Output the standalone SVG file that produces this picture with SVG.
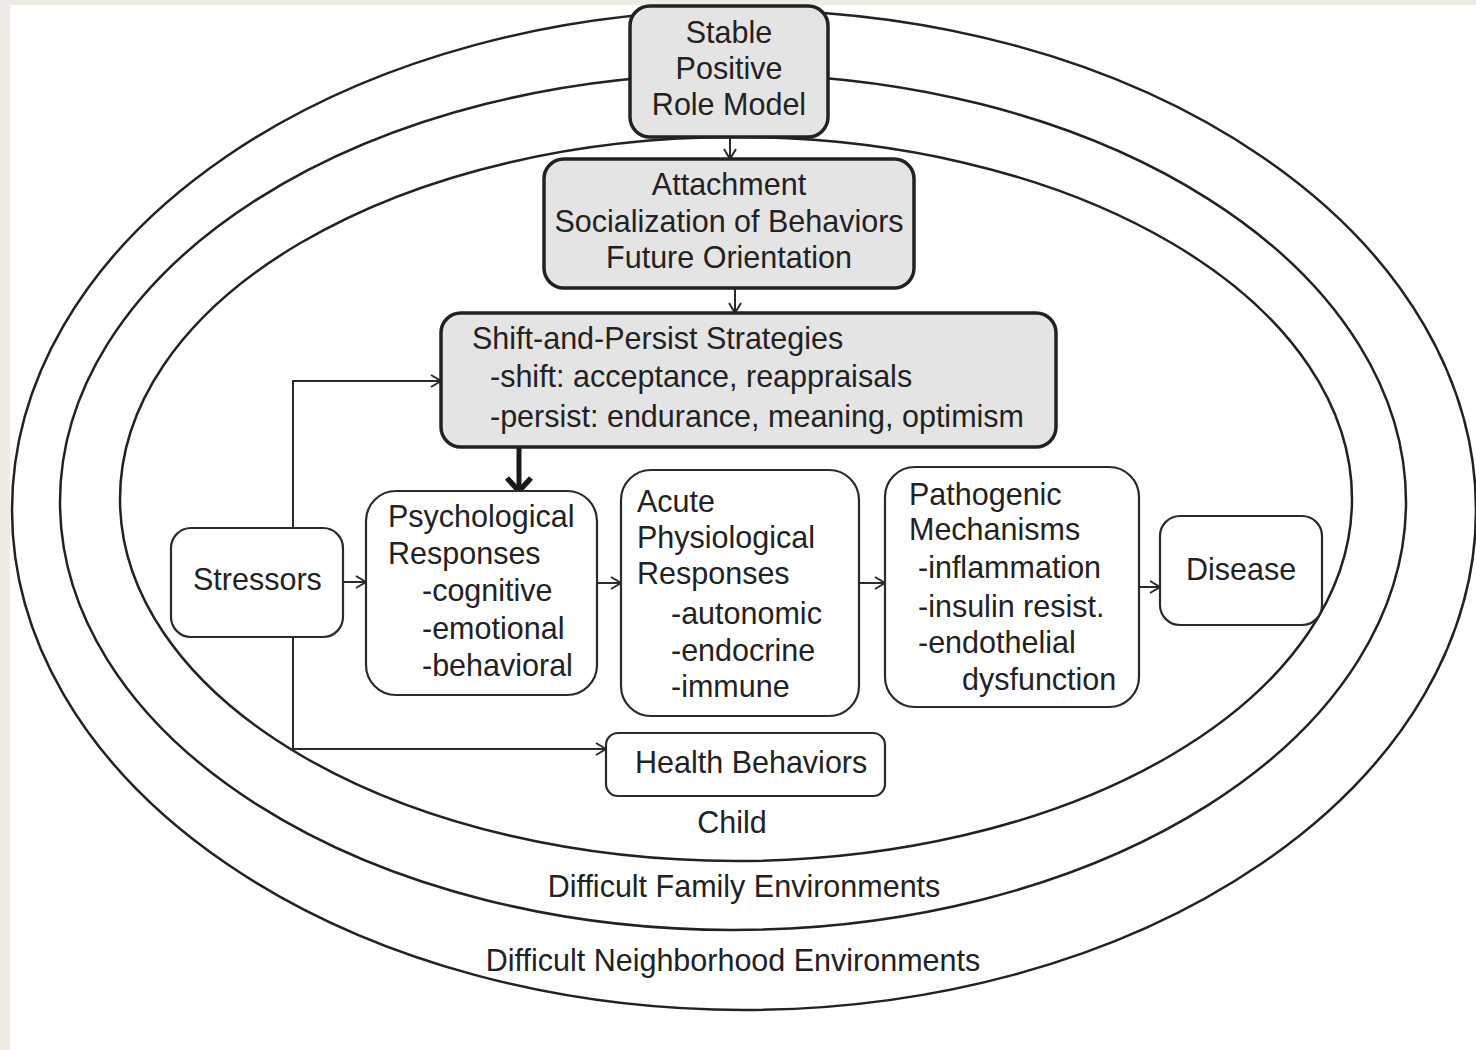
<svg xmlns="http://www.w3.org/2000/svg" width="1476" height="1050" viewBox="0 0 1476 1050">
<defs>
<style>
.t{font-family:"Liberation Sans",Arial,sans-serif;font-size:30.5px;fill:#222;}
.c{text-anchor:middle;}
.ring{fill:none;stroke:#222;stroke-width:2.5;}
.gbox{fill:#e4e4e4;stroke:#222;stroke-width:3.5;}
.wbox{fill:#fff;stroke:#2a2a2a;stroke-width:2.2;}
.conn{fill:none;stroke:#2a2a2a;stroke-width:2;}
</style>
<marker id="ah" markerUnits="userSpaceOnUse" markerWidth="14" markerHeight="14" refX="11" refY="7" orient="auto">
<path d="M1,1 L11,7 L1,13" fill="none" stroke="#2a2a2a" stroke-width="2"/>
</marker>
<marker id="ahb" markerUnits="userSpaceOnUse" markerWidth="30" markerHeight="30" refX="16" refY="15" orient="auto">
<path d="M3,3 L16,15 L3,27" fill="none" stroke="#1a1a1a" stroke-width="5.5"/>
</marker>
</defs>
<rect x="0" y="0" width="1476" height="1050" fill="#eeebe4"/>
<rect x="10" y="5" width="1466" height="1045" fill="#fff"/>
<g id="rings">
<ellipse class="ring" cx="744" cy="510" rx="732" ry="500"/>
<ellipse class="ring" cx="733" cy="502" rx="673" ry="428"/>
<ellipse class="ring" cx="736" cy="499" rx="616" ry="362"/>
<text class="t c" x="732" y="833">Child</text>
<text class="t c" x="744" y="897">Difficult Family Environments</text>
<text class="t c" x="733" y="971">Difficult Neighborhood Environments</text>
</g>
<g id="connectors">
<line class="conn" x1="730" y1="137" x2="730" y2="159" marker-end="url(#ah)"/>
<line class="conn" x1="735" y1="288" x2="735" y2="313" marker-end="url(#ah)"/>
<line x1="519" y1="447" x2="519" y2="491" fill="none" stroke="#1a1a1a" stroke-width="5" marker-end="url(#ahb)"/>
<line class="conn" x1="343" y1="582" x2="366" y2="582" marker-end="url(#ah)"/>
<path class="conn" d="M293,528 V381 H441" marker-end="url(#ah)"/>
<path class="conn" d="M293,637 V749 H606" marker-end="url(#ah)"/>
<line class="conn" x1="597" y1="583" x2="621" y2="583" marker-end="url(#ah)"/>
<line class="conn" x1="859" y1="583" x2="885" y2="583" marker-end="url(#ah)"/>
<line class="conn" x1="1139" y1="587" x2="1160" y2="587" marker-end="url(#ah)"/>
</g>
<g id="role-model">
<rect class="gbox" x="630" y="6" width="198" height="131" rx="20"/>
<text class="t c" x="729" y="43">Stable</text>
<text class="t c" x="729" y="79">Positive</text>
<text class="t c" x="729" y="115">Role Model</text>
</g>
<g id="attachment">
<rect class="gbox" x="544" y="159" width="370" height="129" rx="20"/>
<text class="t c" x="729" y="195">Attachment</text>
<text class="t c" x="729" y="232">Socialization of Behaviors</text>
<text class="t c" x="729" y="268">Future Orientation</text>
</g>
<g id="shift-persist">
<rect class="gbox" x="441" y="313" width="615" height="134" rx="20"/>
<text class="t" x="472" y="349">Shift-and-Persist Strategies</text>
<text class="t" x="490" y="387">-shift: acceptance, reappraisals</text>
<text class="t" x="490" y="427">-persist: endurance, meaning, optimism</text>
</g>
<g id="stressors">
<rect class="wbox" x="171" y="528" width="172" height="109" rx="20"/>
<text class="t" x="193" y="590">Stressors</text>
</g>
<g id="psychological">
<rect class="wbox" x="366" y="491" width="231" height="204" rx="30"/>
<text class="t" x="388" y="527">Psychological</text>
<text class="t" x="388" y="564">Responses</text>
<text class="t" x="422" y="601">-cognitive</text>
<text class="t" x="422" y="639">-emotional</text>
<text class="t" x="422" y="676">-behavioral</text>
</g>
<g id="acute">
<rect class="wbox" x="621" y="470" width="238" height="246" rx="30"/>
<text class="t" x="637" y="512">Acute</text>
<text class="t" x="637" y="548">Physiological</text>
<text class="t" x="637" y="584">Responses</text>
<text class="t" x="671" y="624">-autonomic</text>
<text class="t" x="671" y="661">-endocrine</text>
<text class="t" x="671" y="697">-immune</text>
</g>
<g id="pathogenic">
<rect class="wbox" x="885" y="467" width="254" height="240" rx="30"/>
<text class="t" x="909" y="505">Pathogenic</text>
<text class="t" x="909" y="540">Mechanisms</text>
<text class="t" x="918" y="578">-inflammation</text>
<text class="t" x="918" y="617">-insulin resist.</text>
<text class="t" x="918" y="653">-endothelial</text>
<text class="t" x="962" y="690">dysfunction</text>
</g>
<g id="disease">
<rect class="wbox" x="1160" y="516" width="162" height="109" rx="20"/>
<text class="t" x="1186" y="580">Disease</text>
</g>
<g id="health-behaviors">
<rect class="wbox" x="606" y="733" width="279" height="63" rx="12"/>
<text class="t" x="635" y="773">Health Behaviors</text>
</g>
</svg>
